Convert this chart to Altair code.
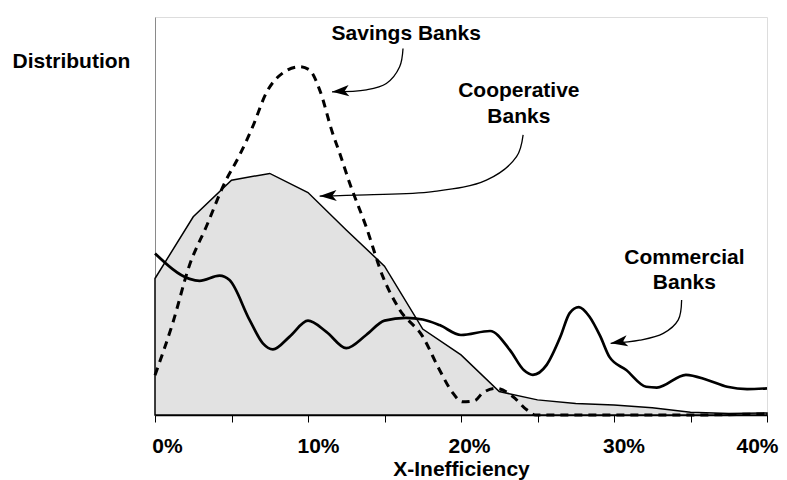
import altair as alt
import pandas as pd

# Cooperative Banks (gray area, straight segments every 2.5%)
coop_x = [0, 2.5, 5, 7.5, 10, 12.5, 15, 17.5, 20, 22.5, 25, 27.5, 30, 32.5, 35, 37.5, 40]
coop_y = [34.3, 49.8, 59.0, 60.7, 55.9, 46.5, 37.4, 21.6, 15.1, 5.9, 3.8, 2.9, 2.5, 1.8, 0.7, 0.4, 0.5]

# Savings Banks (dashed)
sav_x = [0.0, 1.16, 2.26, 3.35, 4.55, 5.53, 6.38, 7.27, 8.34, 9.45, 10.1, 10.76, 11.6, 12.07,
         12.72, 13.8, 14.9, 16.0, 17.5, 18.6, 19.4, 20.1, 20.9, 21.4, 22.3, 23.4, 24.3, 24.9,
         30.0, 35.0, 40.0]
sav_y = [10.0, 23.1, 37.7, 47.3, 58.3, 65.3, 72.4, 80.9, 85.9, 87.5, 86.7, 81.7, 70.9, 65.8,
         58.3, 47.3, 34.7, 26.4, 19.7, 11.3, 5.9, 3.3, 3.6, 5.5, 6.7, 4.6, 1.3, 0.0,
         0.0, 0.0, 0.3]

# Commercial Banks (thick solid)
com_x = [0.0, 2.26, 2.91, 4.22, 4.87, 6.18, 7.05, 7.71, 8.8, 10.0, 11.2, 12.5, 13.8, 15.0, 16.4,
         17.5, 18.6, 20.0, 21.9, 23.2, 24.1, 24.7, 25.6, 26.5, 27.1, 27.7, 28.4, 29.1, 29.7,
         30.8, 32.1, 32.8, 34.7, 36.1, 37.4, 38.7, 40.0]
com_y = [40.6, 34.2, 33.7, 35.0, 33.9, 23.9, 18.0, 16.5, 19.7, 23.7, 20.9, 16.8, 20.1, 23.7, 24.4,
         24.0, 22.6, 20.1, 21.1, 16.3, 11.3, 10.1, 12.6, 19.7, 25.6, 27.1, 24.7, 19.8, 14.6,
         11.3, 7.1, 6.9, 10.1, 8.8, 7.1, 6.5, 6.7]

# x-axis ticks and labelled values
tick_values = [0, 2.5, 5, 7.5, 10, 12.5, 15, 17.5, 20, 22.5, 25, 27.5, 30, 32.5, 35, 37.5, 40]
label_values = [0, 10, 20, 30, 40]
label_shift = [12, 10, 8, 9.5, -10]

# Annotation labels
label_text = ["Savings Banks", "Cooperative", "Banks", "Commercial", "Banks"]
label_x = [16.42, 23.78, 23.78, 34.6, 34.6]
label_y = [94.2, 79.9, 73.4, 37.9, 31.6]

# Annotation arrows (curve points, ending at the tip)
arrow_id = ["s"] * 5 + ["c"] * 6 + ["m"] * 5
arrow_x = [16.21, 15.99, 15.12, 13.82, 11.57,
           24.06, 23.63, 21.66, 18.15, 13.82, 10.76,
           34.42, 34.2, 33.22, 31.69, 29.78]
arrow_y = [92.1, 87.5, 83.3, 81.7, 81.2,
           70.4, 64.9, 59.0, 56.1, 55.3, 55.0,
           28.9, 23.9, 20.5, 18.8, 18.0]
head_x = [11.57, 10.76, 29.78]
head_y = [81.2, 55.0, 18.0]
head_angle = [176, 178, 171]

FONT = "Liberation Sans"
FS = 21

coop = pd.DataFrame({"x": coop_x, "y": coop_y})
sav = pd.DataFrame({"x": sav_x, "y": sav_y})
com = pd.DataFrame({"x": com_x, "y": com_y})
labels = pd.DataFrame({"t": label_text, "x": label_x, "y": label_y})
arrows = pd.DataFrame({"id": arrow_id, "x": arrow_x, "y": arrow_y, "i": list(range(len(arrow_x)))})
heads = pd.DataFrame({"x": head_x, "y": head_y, "a": head_angle})

xscale = alt.Scale(domain=[0, 40], nice=False, zero=False)
yscale = alt.Scale(domain=[0, 100], nice=False)

label_offset = {
    "condition": [{"test": f"datum.value === {v}", "value": s}
                  for v, s in zip(label_values, label_shift)],
    "value": 0,
}

x_axis = alt.Axis(
    values=tick_values,
    labelExpr="datum.value % 10 === 0 ? datum.value + '%' : ''",
    labelFont=FONT, labelFontSize=FS, labelFontWeight="bold", labelColor="black",
    labelBaseline="alphabetic", labelPadding=30, labelOverlap=False, labelFlush=False,
    labelOffset=label_offset,
    domainColor="black", domainWidth=1.5, tickColor="black", tickSize=7, tickWidth=1,
    grid=False,
    title="X-Inefficiency", titleFont=FONT, titleFontSize=FS, titleFontWeight="bold",
    titleColor="black", titleBaseline="alphabetic", titleY=60,
)
y_axis = alt.Axis(
    labels=False, ticks=False, grid=False, domainColor="#8a8a8a", domainWidth=1,
    title="Distribution", titleAngle=0, titleAlign="center", titleBaseline="alphabetic",
    titleX=-84, titleY=50, titleFont=FONT, titleFontSize=FS, titleFontWeight="bold",
    titleColor="black",
)

X = alt.X("x:Q", scale=xscale, axis=x_axis)
Y = alt.Y("y:Q", scale=yscale, axis=y_axis)
Xn = alt.X("x:Q", scale=xscale)
Yn = alt.Y("y:Q", scale=yscale)

area = alt.Chart(coop).mark_area(
    fill="#e2e2e2", stroke="black", strokeWidth=1.5, interpolate="linear"
).encode(x=X, y=Y)

sav_line = alt.Chart(sav).mark_line(
    color="black", strokeWidth=3, strokeDash=[8, 6], interpolate="monotone"
).encode(x=Xn, y=Yn)

com_line = alt.Chart(com).mark_line(
    color="black", strokeWidth=2.7, interpolate="monotone"
).encode(x=Xn, y=Yn)

arrow_lines = alt.Chart(arrows).mark_line(
    color="black", strokeWidth=1.3, interpolate="catmull-rom"
).encode(x=Xn, y=Yn, detail="id:N", order="i:Q")

arrow_heads = alt.Chart(heads).mark_point(
    shape="M0,0 L-1,-0.33 L-0.75,0 L-1,0.33 Z", size=1156, filled=True,
    color="black", opacity=1, strokeWidth=0
).encode(x=Xn, y=Yn, angle=alt.Angle("a:Q", scale=None))

texts = alt.Chart(labels).mark_text(
    font=FONT, fontSize=FS, fontWeight="bold", color="black",
    align="center", baseline="alphabetic"
).encode(x=Xn, y=Yn, text="t:N")

chart = alt.layer(area, sav_line, com_line, arrow_lines, arrow_heads, texts).properties(
    width=612, height=398,
    autosize=alt.AutoSizeParams(type="none"),
    padding={"left": 147, "top": 9, "right": 12, "bottom": 65},
).configure_view(stroke=None).configure(background="white")

chart.save("out.html", embed_options={"renderer": "svg", "actions": False})
